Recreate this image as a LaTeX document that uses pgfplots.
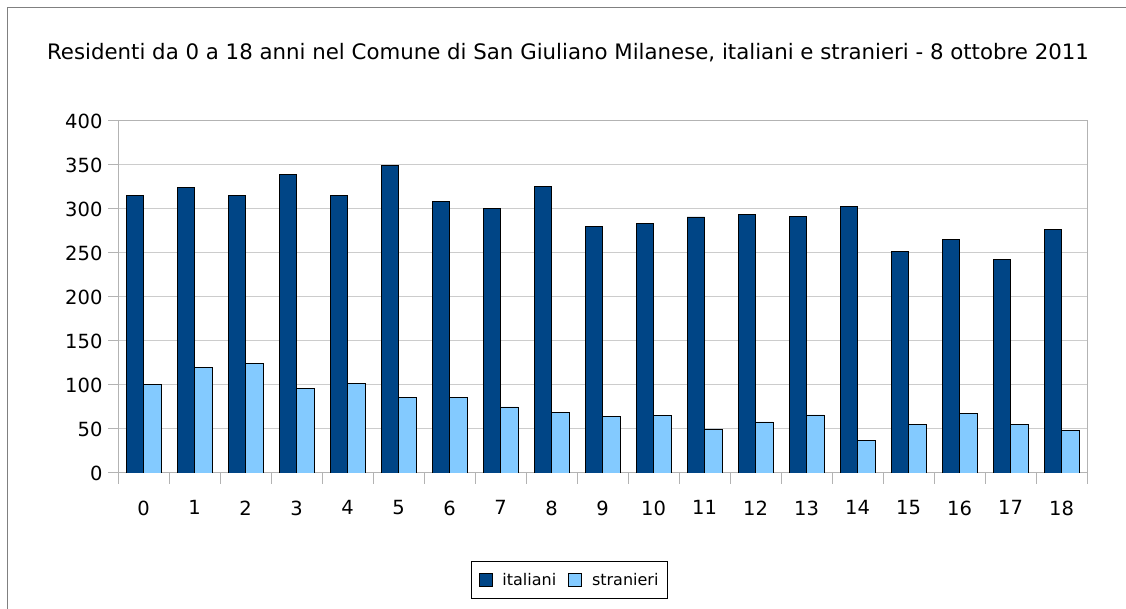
\documentclass[border=0pt]{standalone}
\usepackage{fontspec}
\setmainfont{DejaVu Sans}
\usepackage{pgfplots}
\usepackage{pgfplotstable}
\pgfplotsset{compat=1.18}
\definecolor{ital}{HTML}{004586}
\definecolor{stra}{HTML}{83CAFF}
\definecolor{gridc}{HTML}{CCCCCC}
\definecolor{axisc}{HTML}{B3B3B3}
\definecolor{framec}{HTML}{808080}
\pgfplotstableread{
age ital stra
0 315 101
1 324 120
2 315 124
3 339 96
4 315 102
5 349 86
6 309 86
7 301 75
8 326 69
9 280 64
10 284 65
11 291 50
12 294 58
13 292 66
14 303 37
15 252 55
16 265 68
17 243 55
18 277 48
}\datatable
\begin{document}
\begin{tikzpicture}[x=1pt,y=1pt]
\useasboundingbox (0,0) rectangle (1126,609);
\draw[framec, line width=1.5pt] (7.5,0) -- (7.5,601.5) -- (1126,601.5);
\node[anchor=base, font=\fontsize{21.3}{25}\selectfont, inner sep=0pt] at (568,549.7) {Residenti da 0 a 18 anni nel Comune di San Giuliano Milanese, italiani e stranieri - 8 ottobre 2011};
\begin{axis}[at={(118pt,136pt)}, anchor=south west, scale only axis,
  width=969pt, height=352pt,
  xmin=-0.5, xmax=18.5, ymin=0, ymax=400,
  ytick={0,50,...,400},
  xtick={0,...,18},
  minor xtick={-0.5,0.5,...,18.5},
  tick pos=left,
  ymajorgrids, grid style={gridc, line width=1pt},
  axis line style={axisc, line width=1pt},
  tick style={axisc, line width=1pt},
  tick align=outside, major tick length=10pt, minor tick length=11pt,
  major x tick style={draw=none},
  ybar=0pt, bar width=17.5pt,
  ticklabel style={font=\fontsize{19.5}{23}\selectfont},
  /pgf/number format/assume math mode=true,
  xticklabel style={yshift=-14pt},
  yticklabel style={xshift=-2pt},
  legend style={at={(axis description cs:0.466,-0.304)}, anchor=center,
    legend columns=2, draw=black, line width=0.8pt,
    inner xsep=7pt, inner ysep=10pt,
    font=\fontsize{16}{19}\selectfont,
    /tikz/every odd column/.append style={column sep=8pt},
    /tikz/every even column/.append style={column sep=10pt}},
  legend image code/.code={\draw[#1, line width=0.8pt] (0pt,-6.5pt) rectangle (13pt,6.5pt);},
]
\addplot[fill=ital, draw=black, line width=0.8pt] table[x=age, y=ital] {\datatable};
\addplot[fill=stra, draw=black, line width=0.8pt] table[x=age, y=stra] {\datatable};
\legend{italiani, stranieri}
\end{axis}
\end{tikzpicture}
\end{document}
